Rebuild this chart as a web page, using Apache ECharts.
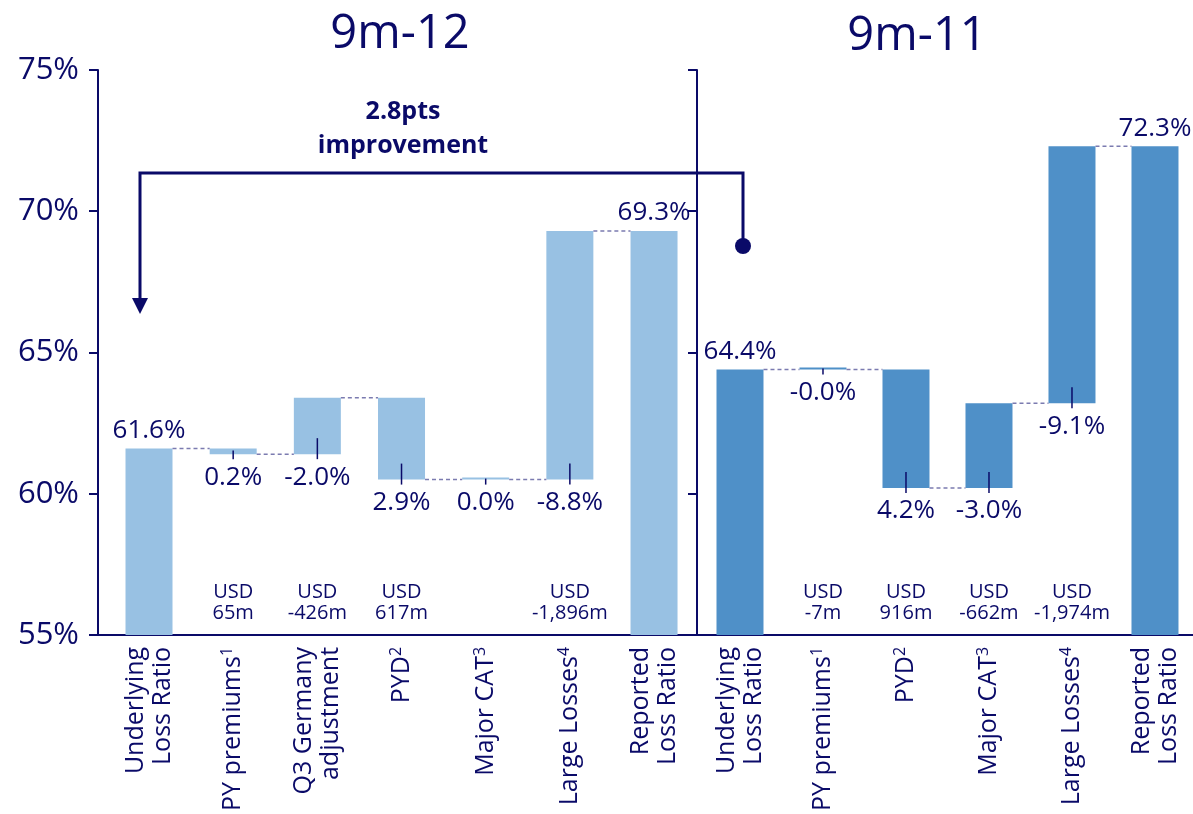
<!DOCTYPE html>
<html>
<head>
<meta charset="utf-8">
<script src="https://cdn.jsdelivr.net/npm/echarts@6/dist/echarts.min.js"></script>
<style>
html,body{margin:0;padding:0;background:#fff;}
#chart{width:1193px;height:814px;}
</style>
</head>
<body>
<div id="chart"></div>
<script>
// ---------- data ----------
const yMin = 55, yMax = 75, yInterval = 5;

const leftTitle = '9m-12';
const leftCategories = ['Underlying\nLoss Ratio', 'PY premiums{s|1}', 'Q3 Germany\nadjustment', 'PYD{s|2}', 'Major CAT{s|3}', 'Large Losses{s|4}', 'Reported\nLoss Ratio'];
const leftStart = 61.6;
const leftDeltas = [0.2, -2.0, 2.9, 0.0, -8.8];
const leftEnd = 69.3;
const leftUsd = ['', 'USD\n65m', 'USD\n-426m', 'USD\n617m', '', 'USD\n-1,896m', ''];

const rightTitle = '9m-11';
const rightCategories = ['Underlying\nLoss Ratio', 'PY premiums{s|1}', 'PYD{s|2}', 'Major CAT{s|3}', 'Large Losses{s|4}', 'Reported\nLoss Ratio'];
const rightStart = 64.4;
const rightDeltas = [-0.0, 4.2, -3.0, -9.1];
const rightEnd = 72.3;
const rightUsd = ['', 'USD\n-7m', 'USD\n916m', 'USD\n-662m', 'USD\n-1,974m', ''];

const annotationText = '2.8pts\nimprovement';

// ---------- styling ----------
const NAVY = '#0a0a68';
const FONT = 'Open Sans';
const LEFT_COLOR = '#98c1e3';
const RIGHT_COLOR = '#4f90c8';
const CONNECT = '#7b7bb0';
const BAR_W = 47;

function pct(v) {
  const neg = v < 0 || Object.is(v, -0);
  return (neg ? '-' : '') + Math.abs(v).toFixed(1) + '%';
}

function buildPanel(idx, start, deltas, end, usd, color) {
  const levels = [start];
  deltas.forEach(d => levels.push(+(levels[levels.length - 1] - d).toFixed(2)));
  const n = deltas.length + 2;
  const bars = [], labels = [], connectors = [], usdData = [];
  // bars: [x, lo, hi, isTotal]
  bars.push([0, yMin, start, 1]);
  labels.push(pct(start));
  deltas.forEach((d, k) => {
    const a = levels[k], b = levels[k + 1];
    bars.push([k + 1, Math.min(a, b), Math.max(a, b), 0]);
    labels.push(pct(d));
  });
  bars.push([n - 1, yMin, end, 1]);
  labels.push(pct(end));
  for (let i = 0; i < n - 2; i++) connectors.push([i, levels[i]]);
  connectors.push([n - 2, end]);
  usd.forEach((t, i) => { if (t) usdData.push([i, yMin]); });

  return [
    {
      type: 'custom', xAxisIndex: idx, yAxisIndex: idx, clip: false, silent: true, z: 3,
      renderItem: (params, api) => {
        const x = api.value(0), lo = api.value(1), hi = api.value(2), total = api.value(3);
        const pl = api.coord([x, lo]), ph = api.coord([x, hi]);
        let h = pl[1] - ph[1];
        let topY = ph[1];
        if (h < 2) { h = 2; topY = pl[1] - 2; }
        const children = [
          { type: 'rect', shape: { x: pl[0] - BAR_W / 2, y: topY, width: BAR_W, height: h }, style: { fill: color } }
        ];
        const txt = labels[params.dataIndex];
        if (total) {
          children.push({ type: 'text', x: pl[0], y: ph[1] - 5,
            style: { text: txt, align: 'center', verticalAlign: 'bottom', fill: NAVY, fontFamily: FONT, fontSize: 26 } });
        } else {
          const top = Math.min(pl[1] - 1, Math.max(pl[1] - 16, ph[1] + 2));
          children.push({ type: 'line', shape: { x1: pl[0], y1: top, x2: pl[0], y2: pl[1] + 5 },
            style: { stroke: NAVY, lineWidth: 1.5 } });
          children.push({ type: 'text', x: pl[0], y: pl[1] + 10,
            style: { text: txt, align: 'center', verticalAlign: 'top', fill: NAVY, fontFamily: FONT, fontSize: 26 } });
        }
        return { type: 'group', children };
      },
      data: bars
    },
    {
      type: 'custom', xAxisIndex: idx, yAxisIndex: idx, clip: false, silent: true, z: 4,
      renderItem: (params, api) => {
        const x = api.value(0), y = api.value(1);
        const p1 = api.coord([x, y]), p2 = api.coord([x + 1, y]);
        return { type: 'line', shape: { x1: p1[0] + BAR_W / 2, y1: p1[1], x2: p2[0] - BAR_W / 2, y2: p1[1] },
          style: { stroke: CONNECT, lineWidth: 1.5, lineDash: [4, 3] } };
      },
      data: connectors
    },
    {
      type: 'custom', xAxisIndex: idx, yAxisIndex: idx, clip: false, silent: true, z: 6,
      renderItem: (params, api) => {
        const x = api.value(0), y = api.value(1);
        const p = api.coord([x, y]);
        return { type: 'text', x: p[0], y: p[1] - 32,
          style: { text: usd[x], align: 'center', verticalAlign: 'middle', fill: NAVY,
            lineHeight: 21, fontSize: 20, fontFamily: FONT } };
      },
      data: usdData
    }
  ];
}

function xAxisFor(idx, cats, min, max) {
  return {
    type: 'value', gridIndex: idx, min, max,
    axisLine: { show: true, onZero: false, lineStyle: { color: NAVY, width: 2 } },
    axisTick: { show: false },
    splitLine: { show: false },
    axisLabel: {
      customValues: cats.map((c, i) => i),
      formatter: v => cats[Math.round(v)] || '',
      rotate: 90, margin: 12, color: NAVY, fontFamily: FONT, fontSize: 25, lineHeight: 27,
      rich: { s: { fontSize: 16, lineHeight: 14, verticalAlign: 'top', color: NAVY, fontFamily: FONT } }
    }
  };
}

function yAxisFor(idx, showLabels) {
  return {
    type: 'value', gridIndex: idx, min: yMin, max: yMax, interval: yInterval,
    axisLine: { show: true, onZero: false, lineStyle: { color: NAVY, width: 2 } },
    axisTick: { show: true, length: 9, lineStyle: { color: NAVY, width: 2 } },
    splitLine: { show: false },
    axisLabel: { show: showLabels, formatter: '{value}%', color: NAVY, fontFamily: FONT, fontSize: 31, margin: 19 }
  };
}

const chart = echarts.init(document.getElementById('chart'), null, { renderer: 'canvas' });
const option = {
  animation: false,
  backgroundColor: '#fff',
  grid: [
    { left: 98, top: 70, width: 595, height: 565 },
    { left: 697, top: 70, width: 496, height: 565 }
  ],
  xAxis: [
    xAxisFor(0, leftCategories, -0.606, 6.463),
    xAxisFor(1, rightCategories, -0.518, 5.458)
  ],
  yAxis: [yAxisFor(0, true), yAxisFor(1, false)],
  series: [
    ...buildPanel(0, leftStart, leftDeltas, leftEnd, leftUsd, LEFT_COLOR),
    ...buildPanel(1, rightStart, rightDeltas, rightEnd, rightUsd, RIGHT_COLOR)
  ],
  graphic: [
    { type: 'text', x: 400, y: 35, style: { text: leftTitle, fill: NAVY, fontFamily: FONT, fontSize: 47, align: 'center', verticalAlign: 'middle' } },
    { type: 'text', x: 917, y: 37, style: { text: rightTitle, fill: NAVY, fontFamily: FONT, fontSize: 47, align: 'center', verticalAlign: 'middle' } },
    { type: 'text', x: 403, y: 129, style: { text: annotationText, fill: NAVY, fontFamily: FONT, fontSize: 25, fontWeight: 'bold', lineHeight: 34, align: 'center', verticalAlign: 'middle' } },
    { type: 'polyline', shape: { points: [[743, 246], [743, 173], [140, 173], [140, 300]] }, style: { stroke: NAVY, lineWidth: 3, fill: null }, z: 10 },
    { type: 'polygon', shape: { points: [[132, 298], [148, 298], [140, 314]] }, style: { fill: NAVY }, z: 10 },
    { type: 'circle', shape: { cx: 743, cy: 246, r: 8 }, style: { fill: NAVY }, z: 10 }
  ]
};
chart.setOption(option);
</script>
</body>
</html>
